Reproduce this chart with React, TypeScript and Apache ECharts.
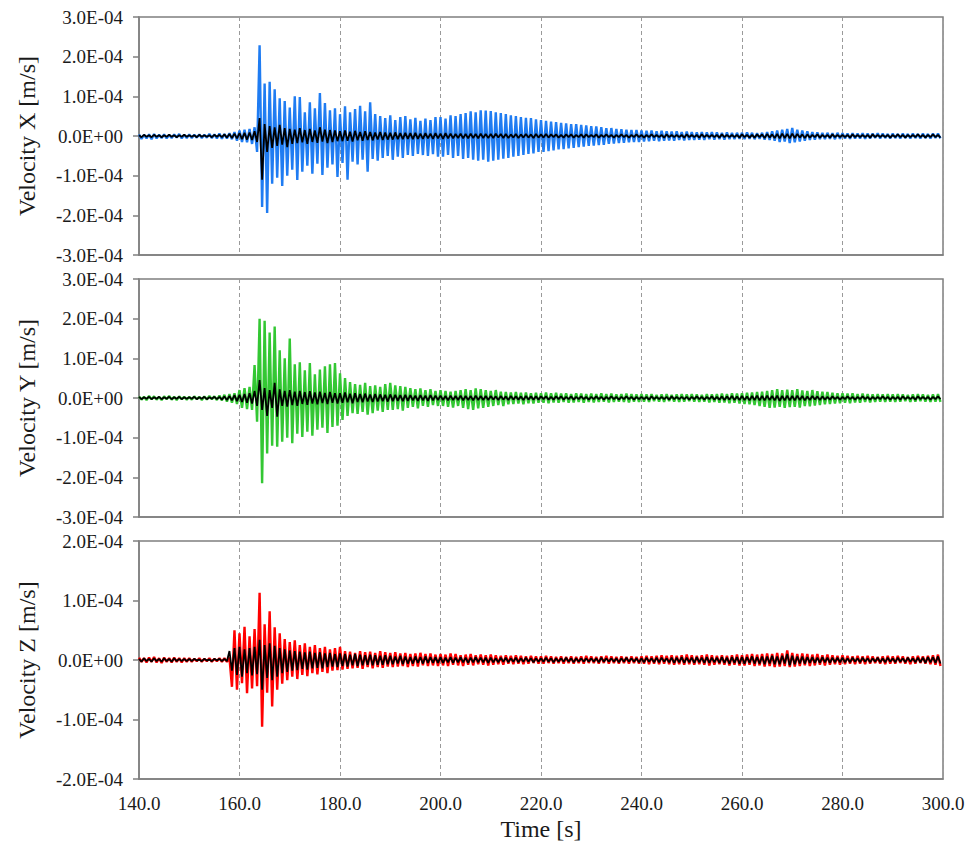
import React, { useEffect, useRef } from 'react';
import * as echarts from 'echarts';

// Time axis ticks [s]
const TIME_TICKS = [140, 160, 180, 200, 220, 240, 260, 280, 300];
// Velocity envelopes per 1-second bin starting at 140 s, in units of 1e-6 m/s
// (upper extreme at t, lower extreme at t+0.5)

// ---- Velocity X : coloured trace ----
const X_UP = [
  4, 3, 4, 5, 3, 4, 3, 4, 5, 3,
  4, 3, 4, 3, 5, 4, 6, 5, 7, 10,
  14, 16, 18, 22, 229, 132, 137, 118, 95, 88,
  72, 100, 98, 60, 85, 70, 108, 83, 65, 70,
  55, 75, 60, 68, 76, 62, 85, 55, 50, 45,
  52, 40, 48, 50, 42, 46, 38, 44, 40, 48,
  48, 44, 52, 50, 55, 58, 62, 60, 65, 64,
  63, 60, 58, 55, 52, 50, 48, 46, 45, 42,
  40, 38, 36, 35, 33, 32, 30, 30, 28, 27,
  25, 24, 22, 20, 20, 18, 17, 16, 15, 15,
  14, 13, 14, 12, 13, 12, 11, 12, 10, 11,
  10, 9, 10, 9, 10, 9, 8, 9, 8, 8,
  8, 9, 8, 7, 8, 10, 12, 14, 16, 18,
  20, 16, 14, 12, 10, 9, 8, 8, 7, 8,
  7, 6, 7, 6, 7, 6, 6, 7, 6, 5,
  6, 5, 6, 5, 6, 5, 6, 5, 6, 6,
];
const X_LO = [
  -7, -6, -8, -6, -5, -6, -5, -4, -6, -5,
  -5, -4, -5, -4, -5, -6, -7, -6, -8, -12,
  -15, -16, -20, -40, -179, -194, -120, -105, -126, -100,
  -85, -111, -90, -75, -95, -70, -98, -80, -72, -103,
  -68, -110, -65, -72, -60, -90, -58, -62, -55, -50,
  -60, -52, -55, -48, -50, -45, -48, -50, -46, -52,
  -52, -48, -55, -50, -58, -55, -60, -62, -60, -65,
  -62, -60, -57, -55, -52, -50, -48, -45, -44, -40,
  -40, -38, -36, -34, -33, -31, -30, -28, -27, -25,
  -24, -23, -22, -20, -19, -18, -17, -16, -15, -15,
  -14, -13, -12, -13, -12, -11, -12, -10, -11, -10,
  -10, -9, -10, -8, -9, -8, -9, -8, -8, -7,
  -8, -7, -8, -7, -9, -10, -12, -15, -14, -18,
  -16, -14, -12, -10, -9, -8, -8, -7, -8, -7,
  -6, -7, -6, -6, -7, -6, -5, -6, -5, -6,
  -5, -6, -5, -6, -5, -6, -5, -6, -5, -6,
];
// ---- Velocity X : black trace ----
const XB_UP = [
  2, 3, 2, 3, 2, 2, 3, 2, 2, 3,
  2, 2, 3, 2, 2, 3, 3, 4, 5, 6,
  7, 8, 9, 12, 45, 30, 25, 22, 28, 20,
  18, 16, 20, 15, 18, 14, 22, 16, 15, 14,
  12, 14, 11, 13, 10, 12, 10, 9, 10, 9,
  8, 9, 7, 8, 7, 8, 6, 7, 6, 7,
  6, 7, 6, 5, 6, 5, 6, 5, 6, 5,
  5, 6, 5, 5, 4, 5, 4, 5, 4, 5,
  4, 5, 4, 4, 3, 4, 4, 3, 4, 4,
  3, 4, 3, 4, 3, 3, 4, 3, 3, 4,
  3, 3, 4, 3, 3, 4, 3, 3, 3, 4,
  3, 3, 4, 3, 3, 3, 4, 3, 3, 3,
  4, 3, 3, 4, 4, 5, 4, 5, 6, 5,
  6, 5, 4, 4, 3, 4, 3, 3, 4, 3,
  3, 3, 4, 3, 3, 3, 4, 3, 3, 3,
  3, 4, 3, 3, 3, 4, 3, 3, 4, 3,
];
const XB_LO = [
  -3, -2, -3, -2, -3, -2, -2, -3, -2, -2,
  -2, -3, -2, -2, -3, -2, -3, -4, -5, -6,
  -8, -9, -10, -15, -110, -40, -30, -25, -22, -28,
  -20, -18, -16, -20, -15, -17, -14, -18, -15, -13,
  -13, -12, -14, -11, -12, -10, -11, -9, -10, -9,
  -9, -8, -8, -7, -8, -7, -7, -6, -7, -6,
  -7, -6, -6, -5, -6, -6, -5, -6, -5, -5,
  -5, -4, -5, -5, -4, -5, -4, -4, -5, -4,
  -4, -4, -3, -4, -4, -3, -4, -3, -4, -3,
  -3, -4, -3, -3, -4, -3, -3, -4, -3, -3,
  -4, -3, -3, -3, -4, -3, -3, -3, -4, -3,
  -3, -4, -3, -3, -3, -4, -3, -3, -3, -4,
  -3, -4, -4, -3, -5, -4, -5, -6, -5, -6,
  -5, -4, -5, -4, -3, -4, -3, -4, -3, -3,
  -3, -4, -3, -3, -3, -4, -3, -3, -3, -4,
  -3, -3, -4, -3, -3, -3, -4, -3, -3, -4,
];

// ---- Velocity Y : coloured trace ----
const Y_UP = [
  4, 3, 5, 4, 3, 4, 5, 3, 4, 3,
  3, 4, 3, 4, 5, 4, 6, 8, 10, 12,
  20, 25, 28, 83, 200, 195, 165, 180, 120, 100,
  150, 85, 90, 70, 88, 60, 72, 80, 85, 88,
  62, 50, 40, 35, 33, 38, 30, 32, 28, 35,
  38, 32, 30, 28, 25, 22, 24, 20, 22, 18,
  20, 18, 16, 18, 20, 22, 20, 24, 22, 20,
  18, 20, 16, 15, 14, 15, 13, 14, 12, 13,
  12, 14, 12, 13, 11, 12, 10, 12, 11, 10,
  11, 10, 12, 10, 11, 9, 10, 11, 10, 9,
  10, 9, 10, 8, 9, 10, 8, 9, 10, 9,
  10, 9, 8, 10, 9, 10, 11, 10, 12, 11,
  12, 13, 14, 15, 16, 18, 20, 22, 20, 21,
  20, 22, 19, 18, 20, 17, 16, 15, 13, 12,
  12, 11, 12, 10, 11, 10, 9, 10, 9, 10,
  9, 10, 9, 8, 9, 10, 9, 8, 9, 10,
];
const Y_LO = [
  -4, -5, -3, -4, -5, -3, -4, -5, -3, -4,
  -4, -3, -5, -4, -3, -5, -6, -9, -12, -15,
  -25, -28, -30, -60, -215, -140, -120, -123, -110, -100,
  -114, -90, -98, -85, -95, -80, -75, -88, -73, -70,
  -55, -45, -38, -40, -35, -42, -38, -32, -35, -30,
  -30, -28, -32, -25, -22, -26, -20, -22, -18, -20,
  -20, -22, -24, -20, -25, -28, -30, -26, -25, -22,
  -20, -18, -20, -16, -15, -14, -16, -13, -14, -12,
  -12, -13, -11, -12, -10, -12, -11, -10, -12, -10,
  -11, -10, -9, -11, -10, -9, -10, -11, -9, -10,
  -9, -10, -8, -9, -10, -8, -9, -10, -9, -8,
  -9, -10, -9, -11, -10, -12, -11, -13, -12, -14,
  -15, -16, -18, -20, -22, -25, -24, -22, -25, -23,
  -22, -24, -20, -21, -19, -18, -16, -15, -14, -13,
  -12, -13, -11, -12, -10, -11, -10, -9, -10, -9,
  -10, -9, -8, -10, -9, -8, -9, -10, -9, -10,
];
// ---- Velocity Y : black trace ----
const YB_UP = [
  3, 2, 3, 2, 3, 2, 3, 2, 3, 2,
  2, 3, 2, 3, 2, 3, 3, 4, 5, 7,
  8, 10, 12, 18, 45, 25, 20, 38, 22, 18,
  20, 16, 18, 15, 17, 14, 16, 13, 15, 12,
  12, 14, 11, 12, 10, 11, 9, 10, 9, 8,
  9, 8, 7, 8, 7, 6, 7, 6, 7, 6,
  6, 5, 6, 5, 6, 5, 5, 6, 5, 5,
  5, 4, 5, 4, 5, 4, 4, 5, 4, 4,
  4, 4, 3, 4, 4, 3, 4, 3, 4, 3,
  3, 4, 3, 3, 4, 3, 3, 4, 3, 3,
  3, 3, 4, 3, 3, 3, 4, 3, 3, 3,
  3, 4, 3, 3, 4, 3, 4, 4, 5, 4,
  5, 4, 5, 6, 5, 6, 5, 6, 5, 6,
  5, 6, 5, 4, 5, 4, 4, 3, 4, 3,
  3, 4, 3, 3, 4, 3, 3, 3, 4, 3,
  3, 3, 4, 3, 3, 4, 3, 3, 3, 4,
];
const YB_LO = [
  -3, -2, -3, -2, -3, -2, -3, -2, -3, -2,
  -2, -3, -2, -3, -2, -3, -4, -5, -6, -8,
  -10, -12, -14, -20, -30, -45, -25, -47, -20, -22,
  -18, -20, -15, -17, -14, -16, -13, -15, -12, -14,
  -12, -11, -13, -10, -11, -9, -10, -9, -8, -9,
  -8, -7, -8, -7, -6, -7, -6, -7, -6, -5,
  -5, -6, -5, -5, -6, -5, -6, -5, -5, -5,
  -4, -5, -4, -5, -4, -4, -5, -4, -4, -4,
  -3, -4, -4, -3, -4, -3, -4, -3, -3, -4,
  -3, -3, -4, -3, -3, -4, -3, -3, -4, -3,
  -3, -4, -3, -3, -3, -4, -3, -3, -3, -4,
  -3, -3, -4, -3, -4, -4, -5, -4, -5, -5,
  -5, -6, -5, -6, -6, -5, -6, -7, -6, -6,
  -6, -5, -6, -5, -4, -5, -4, -4, -3, -4,
  -3, -3, -4, -3, -3, -4, -3, -3, -3, -4,
  -3, -4, -3, -3, -4, -3, -3, -4, -3, -3,
];

// ---- Velocity Z : coloured trace ----
const Z_UP = [
  4, 3, 4, 5, 3, 4, 3, 4, 3, 3,
  3, 2, 3, 2, 3, 2, 3, 3, 4, 50,
  45, 56, 40, 52, 113, 60, 82, 55, 45, 35,
  30, 33, 25, 28, 22, 25, 20, 22, 18, 20,
  22, 15, 14, 12, 15, 13, 14, 12, 15, 13,
  12, 13, 11, 12, 10, 11, 12, 10, 11, 9,
  10, 9, 11, 10, 8, 9, 10, 8, 9, 8,
  9, 8, 7, 8, 7, 8, 7, 6, 7, 6,
  6, 7, 6, 5, 6, 5, 6, 5, 6, 7,
  6, 5, 6, 7, 6, 5, 6, 5, 6, 5,
  6, 7, 6, 7, 8, 7, 8, 7, 8, 9,
  8, 7, 8, 9, 8, 7, 8, 7, 8, 9,
  8, 9, 10, 9, 10, 11, 10, 12, 11, 16,
  12, 10, 11, 10, 9, 10, 8, 9, 8, 7,
  8, 7, 6, 7, 6, 7, 6, 5, 6, 7,
  6, 7, 6, 5, 6, 7, 6, 7, 8, 9,
];
const Z_LO = [
  -3, -4, -3, -4, -5, -3, -4, -3, -4, -3,
  -3, -2, -3, -2, -3, -2, -3, -3, -45, -50,
  -39, -56, -48, -44, -112, -55, -78, -50, -40, -34,
  -28, -32, -25, -27, -22, -24, -20, -22, -18, -17,
  -16, -15, -14, -13, -15, -12, -14, -12, -13, -11,
  -12, -11, -10, -12, -10, -11, -9, -10, -9, -10,
  -9, -10, -8, -9, -10, -8, -9, -7, -8, -9,
  -8, -7, -8, -6, -7, -6, -7, -6, -5, -6,
  -6, -5, -6, -5, -6, -5, -6, -5, -6, -5,
  -5, -6, -5, -6, -5, -6, -5, -6, -5, -6,
  -6, -7, -6, -7, -6, -7, -8, -7, -8, -7,
  -8, -7, -8, -9, -8, -7, -8, -9, -8, -9,
  -9, -8, -10, -9, -11, -10, -12, -11, -10, -12,
  -11, -10, -9, -10, -9, -8, -9, -8, -7, -8,
  -7, -6, -7, -6, -7, -6, -5, -6, -7, -6,
  -6, -5, -6, -7, -6, -5, -6, -7, -8, -10,
];
// ---- Velocity Z : black trace ----
const ZB_UP = [
  2, 3, 2, 3, 2, 3, 2, 3, 2, 2,
  2, 2, 1, 2, 1, 2, 2, 2, 15, 20,
  22, 18, 20, 22, 34, 25, 28, 24, 20, 18,
  16, 15, 14, 13, 14, 12, 13, 11, 12, 10,
  11, 10, 9, 10, 9, 8, 9, 8, 7, 8,
  7, 6, 7, 6, 5, 6, 5, 6, 5, 5,
  5, 4, 5, 4, 5, 4, 4, 5, 4, 4,
  4, 3, 4, 4, 3, 4, 3, 4, 3, 3,
  3, 4, 3, 3, 3, 4, 3, 3, 3, 3,
  3, 3, 4, 3, 3, 3, 3, 4, 3, 3,
  3, 4, 3, 4, 4, 3, 4, 4, 5, 4,
  4, 5, 4, 5, 4, 4, 5, 4, 5, 5,
  5, 5, 6, 5, 6, 6, 7, 6, 7, 10,
  7, 6, 6, 5, 5, 4, 5, 4, 4, 4,
  4, 3, 4, 3, 4, 3, 3, 4, 3, 4,
  3, 4, 3, 4, 3, 4, 4, 5, 5, 6,
];
const ZB_LO = [
  -3, -2, -3, -2, -3, -2, -3, -2, -2, -2,
  -2, -1, -2, -1, -2, -1, -2, -2, -18, -25,
  -28, -22, -26, -24, -50, -30, -34, -28, -22, -20,
  -18, -17, -15, -16, -14, -13, -14, -12, -11, -12,
  -10, -11, -9, -10, -9, -8, -9, -8, -8, -7,
  -7, -6, -7, -6, -6, -5, -6, -5, -5, -5,
  -5, -4, -5, -4, -4, -5, -4, -4, -4, -5,
  -4, -4, -3, -4, -3, -4, -3, -3, -4, -3,
  -3, -3, -4, -3, -3, -3, -4, -3, -3, -3,
  -3, -4, -3, -3, -3, -4, -3, -3, -3, -4,
  -4, -3, -4, -4, -3, -4, -5, -4, -5, -4,
  -5, -4, -5, -5, -4, -5, -5, -6, -5, -6,
  -6, -5, -6, -6, -7, -6, -7, -7, -6, -9,
  -7, -6, -6, -5, -5, -5, -4, -5, -4, -4,
  -4, -4, -3, -4, -3, -4, -3, -4, -4, -3,
  -4, -3, -4, -3, -4, -4, -5, -4, -5, -6,
];

const PANEL_TITLES = ['Velocity X [m/s]', 'Velocity Y [m/s]', 'Velocity Z [m/s]'];
const PANEL_RANGES = [3e-4, 3e-4, 2e-4];
const PANEL_COLORS = ['#1f7cf2', '#33c733', '#ff0000'];
const UNIT = 1e-6;
const T_START = TIME_TICKS[0];

function zigzag(up: number[], lo: number[]): number[][] {
  const out: number[][] = [];
  for (let i = 0; i < up.length; i++) {
    out.push([T_START + i, up[i] * UNIT]);
    out.push([T_START + i + 0.5, lo[i] * UNIT]);
  }
  return out;
}

function fmtSci(v: number): string {
  if (Math.abs(v) < 1e-12) return '0.0E+00';
  const s = v.toExponential(1);
  const [m, e] = s.split('e');
  const n = parseInt(e, 10);
  return m + 'E' + (n < 0 ? '-' : '+') + String(Math.abs(n)).padStart(2, '0');
}

const FONT = "'Liberation Serif', 'Times New Roman', serif";
const AXIS_GRAY = '#7f7f7f';

export default function App() {
  const ref = useRef<HTMLDivElement>(null);
  useEffect(() => {
    if (!ref.current) return;
    const chart = echarts.init(ref.current, undefined, { renderer: 'svg' });
    const tops = [17, 279, 541];
    const colored = [zigzag(X_UP, X_LO), zigzag(Y_UP, Y_LO), zigzag(Z_UP, Z_LO)];
    const black = [zigzag(XB_UP, XB_LO), zigzag(YB_UP, YB_LO), zigzag(ZB_UP, ZB_LO)];
    const grids = tops.map((t) => ({
      left: 139,
      top: t,
      width: 804,
      height: 238,
      show: true,
      borderColor: AXIS_GRAY,
      borderWidth: 1.5,
      backgroundColor: 'rgba(0,0,0,0)',
    }));
    const xAxes = tops.map((_, k) => ({
      gridIndex: k,
      type: 'value',
      min: TIME_TICKS[0],
      max: TIME_TICKS[TIME_TICKS.length - 1],
      interval: TIME_TICKS[1] - TIME_TICKS[0],
      axisLine: { show: true, onZero: false, lineStyle: { color: AXIS_GRAY, width: 1.5 } },
      axisTick: { show: false },
      axisLabel: {
        show: k === 2,
        formatter: (v: number) => v.toFixed(1),
        color: '#1a1a1a',
        fontFamily: FONT,
        fontSize: 19,
        margin: 15,
      },
      splitLine: { show: true, lineStyle: { color: '#9a9a9a', type: [4, 3], width: 1 } },
      name: k === 2 ? 'Time [s]' : '',
      nameLocation: 'middle',
      nameGap: 38,
      nameTextStyle: { color: '#1a1a1a', fontFamily: FONT, fontSize: 24 },
    }));
    const yAxes = tops.map((_, k) => ({
      gridIndex: k,
      type: 'value',
      min: -PANEL_RANGES[k],
      max: PANEL_RANGES[k],
      interval: 1e-4,
      axisLine: { show: true, onZero: false, lineStyle: { color: AXIS_GRAY, width: 1.5 } },
      axisTick: { show: true, inside: false, length: 6, lineStyle: { color: AXIS_GRAY, width: 1.5 } },
      axisLabel: {
        formatter: fmtSci,
        color: '#1a1a1a',
        fontFamily: FONT,
        fontSize: 19,
        margin: 16,
      },
      splitLine: { show: false },
      name: PANEL_TITLES[k],
      nameLocation: 'middle',
      nameGap: 100,
      nameTextStyle: { color: '#1a1a1a', fontFamily: FONT, fontSize: 24 },
    }));
    const series: any[] = [];
    tops.forEach((_, k) => {
      series.push({
        type: 'line',
        xAxisIndex: k,
        yAxisIndex: k,
        data: colored[k],
        symbol: 'none',
        silent: true,
        lineStyle: { color: PANEL_COLORS[k], width: 2.4 },
        z: 2,
      });
      series.push({
        type: 'line',
        xAxisIndex: k,
        yAxisIndex: k,
        data: black[k],
        symbol: 'none',
        silent: true,
        lineStyle: { color: '#000000', width: 1.8 },
        z: 3,
      });
    });
    chart.setOption({
      animation: false,
      backgroundColor: '#ffffff',
      textStyle: { fontFamily: FONT },
      grid: grids,
      xAxis: xAxes,
      yAxis: yAxes,
      series,
    });
    return () => chart.dispose();
  }, []);
  return (
    <div
      ref={ref}
      style={{ position: 'fixed', left: 0, top: 0, width: 978, height: 845, background: '#fff' }}
    />
  );
}
